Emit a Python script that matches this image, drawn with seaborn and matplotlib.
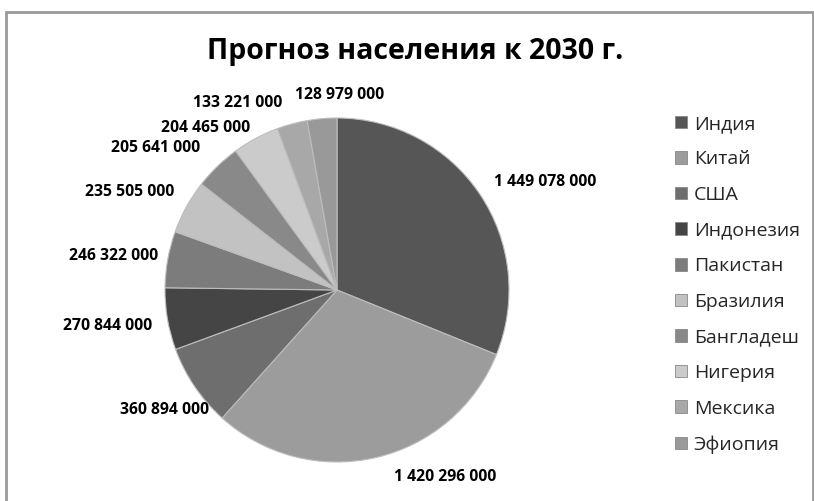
import matplotlib
matplotlib.use("Agg")
import matplotlib.pyplot as plt
import seaborn as sns
from matplotlib.patches import Rectangle

countries = ["Индия", "Китай", "США", "Индонезия", "Пакистан", "Бразилия",
             "Бангладеш", "Нигерия", "Мексика", "Эфиопия"]
population = [1449078000, 1420296000, 360894000, 270844000, 246322000,
              235505000, 205641000, 204465000, 133221000, 128979000]
colors = ["#565656", "#9c9c9c", "#6e6e6e", "#454545", "#7c7c7c",
          "#c2c2c2", "#898989", "#cbcbcb", "#a8a8a8", "#999999"]
title = "Прогноз населения к 2030 г."

# layout: label centres in pixels (x from left, y from top), as placed in the reference
label_px = [(545, 182), (445, 477), (165, 410), (108, 326), (114, 256),
            (130, 192), (156, 148), (206, 128), (238, 103), (340, 95)]

sns.set_theme(style="white")
plt.rcParams["font.family"] = ["Open Sans", "DejaVu Sans"]

W, H = 814, 501
fig = plt.figure(figsize=(W / 100, H / 100), dpi=100)
fig.patch.set_facecolor("white")

# chart frame
fig.add_artist(Rectangle((6 / W, -0.05), (813 - 6) / W, 1.05 - 12 / H,
                         transform=fig.transFigure, fill=False,
                         edgecolor="#9a9a9a", linewidth=2))

cx, cy, r = 337, 290, 172
ax = fig.add_axes([(cx - r) / W, (H - cy - r) / H, 2 * r / W, 2 * r / H])

def fmt(v):
    return f"{v:,}".replace(",", " ")

wedges, texts = ax.pie(population, colors=colors, startangle=90, counterclock=False,
                       labels=[fmt(v) for v in population], labeldistance=1.1,
                       wedgeprops=dict(edgecolor="#bdbdbd", linewidth=0.8),
                       textprops=dict(fontsize=11.3, fontweight="bold", color="black"))
for t, (px, py) in zip(texts, label_px):
    t.set_position(((px - cx) / r, (cy - py) / r))
    t.set_ha("center")
    t.set_va("center")
ax.set_xlim(-1, 1)
ax.set_ylim(-1, 1)
ax.set_aspect("equal")
ax.axis("off")

fig.text(415 / W, 1 - 51 / H, title, ha="center", va="center",
         fontsize=20.5, fontweight="bold", color="black")

leg = fig.legend(wedges, countries, loc="upper left",
                 bbox_to_anchor=(667 / W, 1 - 107 / H), frameon=False,
                 fontsize=14, handlelength=0.62, handleheight=0.62,
                 handletextpad=0.35, labelspacing=0.905, borderaxespad=0)
for h in leg.legend_handles:
    h.set_edgecolor("#888888")
    h.set_linewidth(0.6)

fig.savefig("out.png", dpi=100)
